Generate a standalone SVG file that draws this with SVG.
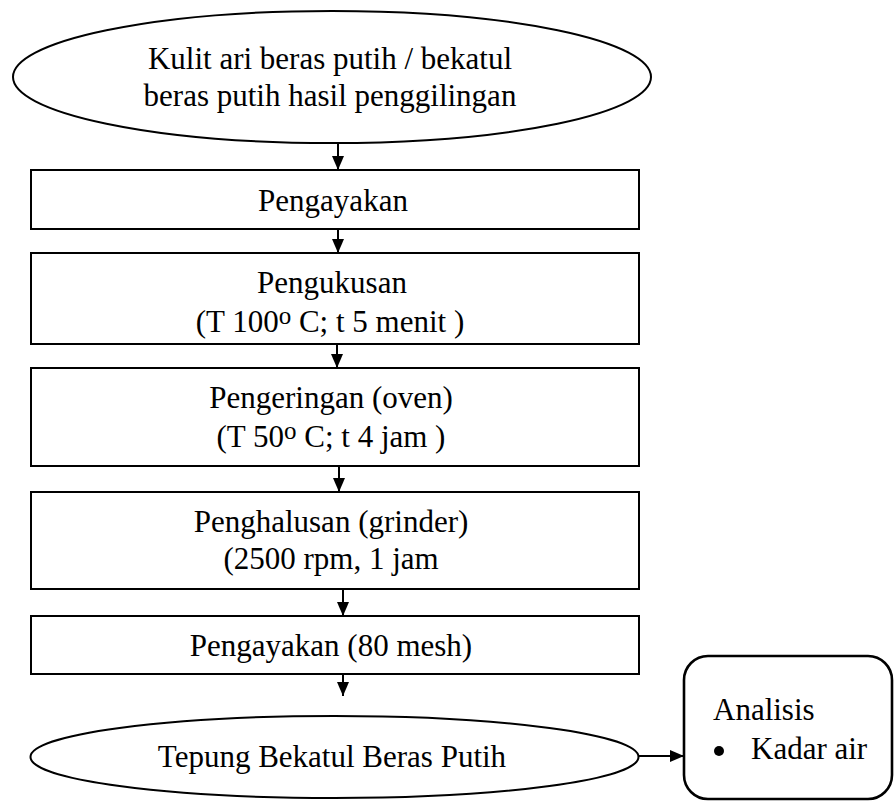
<svg xmlns="http://www.w3.org/2000/svg" width="895" height="802" viewBox="0 0 895 802">
<style>
  .shape { fill: #ffffff; stroke: #000000; stroke-width: 2; }
  .thick { stroke-width: 2.6; }
  .lbl { font-family: "Liberation Serif", "Times New Roman", serif; font-size: 31px; fill: #000000; }
  .mid { text-anchor: middle; }
  .sup { font-size: 25px; }
  .conn { stroke: #000000; stroke-width: 2; fill: none; }
</style>
<defs>
  <marker id="arrow" markerUnits="userSpaceOnUse" markerWidth="14" markerHeight="12" refX="14" refY="6" orient="auto">
    <path d="M0,0 L14,6 L0,12 Z" fill="#000000"/>
  </marker>
</defs>
<rect width="895" height="802" fill="#ffffff"/>

<g id="connectors">
  <line class="conn" x1="338" y1="143" x2="338" y2="170" marker-end="url(#arrow)"/>
  <line class="conn" x1="338" y1="229" x2="338" y2="253" marker-end="url(#arrow)"/>
  <line class="conn" x1="337" y1="344" x2="337" y2="368" marker-end="url(#arrow)"/>
  <line class="conn" x1="339" y1="466" x2="339" y2="492" marker-end="url(#arrow)"/>
  <line class="conn" x1="343" y1="589" x2="343" y2="616" marker-end="url(#arrow)"/>
  <line class="conn" x1="343" y1="674" x2="343" y2="696" marker-end="url(#arrow)"/>
  <line class="conn" x1="638" y1="756" x2="684" y2="756" stroke-width="2.6" marker-end="url(#arrow)"/>
</g>

<g id="start">
  <ellipse class="shape" cx="332" cy="77" rx="319" ry="66"/>
  <text class="lbl mid" x="330" y="69">Kulit ari beras putih / bekatul</text>
  <text class="lbl mid" x="330" y="106">beras putih hasil penggilingan</text>
</g>

<g id="pengayakan1">
  <rect class="shape" x="31" y="170" width="608" height="59"/>
  <text class="lbl mid" x="333" y="211">Pengayakan</text>
</g>

<g id="pengukusan">
  <rect class="shape" x="31" y="253" width="608" height="91"/>
  <text class="lbl mid" x="332" y="293">Pengukusan</text>
  <text class="lbl mid" x="330" y="332">(T 100<tspan class="sup" dy="-8">o</tspan><tspan dy="8"> C; t 5 menit )</tspan></text>
</g>

<g id="pengeringan">
  <rect class="shape" x="31" y="368" width="608" height="98"/>
  <text class="lbl mid" x="331" y="408">Pengeringan (oven)</text>
  <text class="lbl mid" x="331" y="447">(T 50<tspan class="sup" dy="-8">o</tspan><tspan dy="8"> C; t 4 jam )</tspan></text>
</g>

<g id="penghalusan">
  <rect class="shape" x="31" y="492" width="608" height="97"/>
  <text class="lbl mid" x="331" y="532">Penghalusan (grinder)</text>
  <text class="lbl mid" x="331" y="569">(2500 rpm, 1 jam</text>
</g>

<g id="pengayakan2">
  <rect class="shape" x="31" y="616" width="608" height="58"/>
  <text class="lbl mid" x="331" y="656">Pengayakan (80 mesh)</text>
</g>

<g id="tepung">
  <ellipse class="shape" cx="334.5" cy="757" rx="304" ry="41"/>
  <text class="lbl mid" x="332" y="767">Tepung Bekatul Beras Putih</text>
</g>

<g id="analisis">
  <rect class="shape thick" x="684" y="656" width="208" height="143" rx="24" ry="24"/>
  <text class="lbl" x="713" y="720">Analisis</text>
  <circle cx="719" cy="751" r="5" fill="#000000"/>
  <text class="lbl" x="751" y="759">Kadar air</text>
</g>
</svg>
